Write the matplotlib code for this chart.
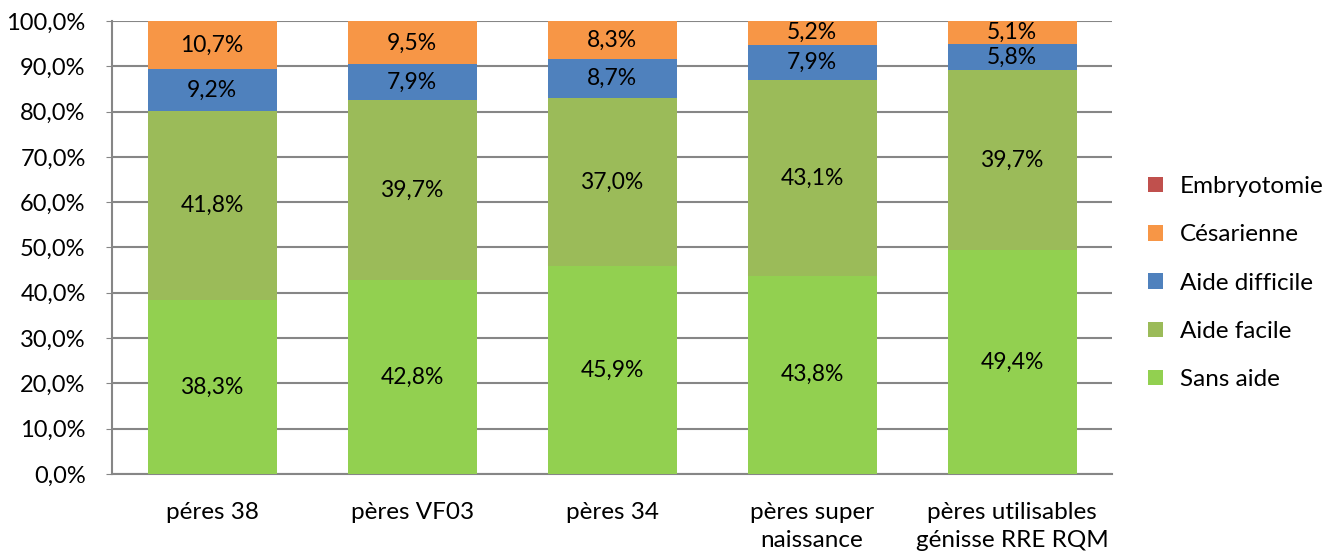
import numpy as np
import matplotlib.pyplot as plt
from matplotlib.ticker import FuncFormatter

plt.rcParams['font.family'] = ['Lato', 'DejaVu Sans']

categories = ['péres 38', 'pères VF03', 'pères 34', 'pères super\nnaissance',
              'pères utilisables\ngénisse RRE RQM']
series_names = ['Sans aide', 'Aide facile', 'Aide difficile', 'Césarienne', 'Embryotomie']
sans_aide = [38.3, 42.8, 45.9, 43.8, 49.4]
aide_facile = [41.8, 39.7, 37.0, 43.1, 39.7]
aide_difficile = [9.2, 7.9, 8.7, 7.9, 5.8]
cesarienne = [10.7, 9.5, 8.3, 5.2, 5.1]
embryotomie = [0.0, 0.1, 0.1, 0.0, 0.0]
colors = ['#92D050', '#9BBB59', '#4F81BD', '#F79646', '#C0504D']

data = [sans_aide, aide_facile, aide_difficile, cesarienne, embryotomie]

fig = plt.figure(figsize=(13.37, 5.53), dpi=100)
ax = fig.add_axes([0.0838, 0.1429, 0.748, 0.8191])

x = np.arange(len(categories))
bottom = np.zeros(len(categories))
handles = []
for i, (vals, name, col) in enumerate(zip(data, series_names, colors)):
    vals = np.array(vals)
    b = ax.bar(x, vals, 0.645, bottom=bottom, color=col, label=name, zorder=3)
    handles.append(b)
    if i < 4:
        for xi, v, bt in zip(x, vals, bottom):
            ax.text(xi, bt + v / 2, f'{v:.1f}%'.replace('.', ','), ha='center',
                    va='center', fontsize=16.5, color='black', zorder=4)
    bottom += vals

ax.set_xlim(-0.5, 4.5)
ax.set_ylim(0, 100)
ax.set_yticks(np.arange(0, 101, 10))
ax.yaxis.set_major_formatter(FuncFormatter(lambda v, p: f'{v:.1f}%'.replace('.', ',')))
ax.set_xticks(x)
ax.set_xticklabels(categories, fontsize=17.5, va='top', linespacing=1.45)
ax.tick_params(axis='y', labelsize=17, length=4, color='#868686', pad=15)
ax.tick_params(axis='x', length=0, pad=20)
ax.grid(True, axis='y', color='#868686', linewidth=1.5, zorder=0)
for s in ['top', 'right']:
    ax.spines[s].set_visible(False)
for s in ['left', 'bottom']:
    ax.spines[s].set_color('#868686')
    ax.spines[s].set_linewidth(1.5)

ax.legend(handles[::-1], series_names[::-1], loc='center left',
          bbox_to_anchor=(0.859, 0.488), bbox_transform=fig.transFigure,
          frameon=False, fontsize=17.5, handlelength=0.6, handleheight=0.6,
          handletextpad=0.7, labelspacing=1.12, borderaxespad=0, borderpad=0)

fig.savefig('out.png', dpi=100)
